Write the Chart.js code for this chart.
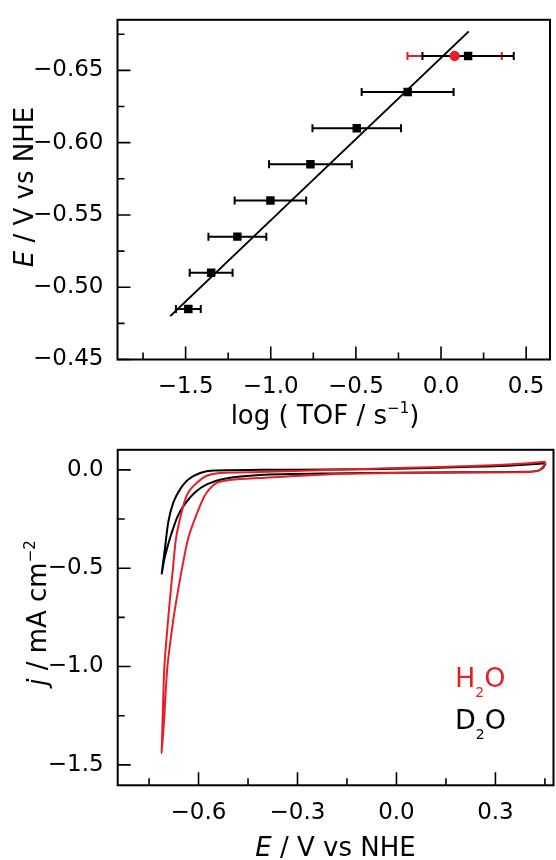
<!DOCTYPE html>
<html>
<head>
<meta charset="utf-8">
<script src="https://cdn.jsdelivr.net/npm/chart.js@4.4.1/dist/chart.umd.min.js"></script>
<style>
  body { margin: 0; background: #fff; }
  canvas { position: absolute; left: 0; }
</style>
</head>
<body>
<canvas id="tofChart" width="556" height="430" style="top:0"></canvas>
<canvas id="cvChart" width="556" height="430" style="top:430px"></canvas>
<script>
// --- top panel: potential vs log(TOF)
const tofLog = [-1.484, -1.350, -1.196, -1.002, -0.767, -0.495, -0.196, 0.159];
const tofErr = [0.073, 0.126, 0.170, 0.210, 0.243, 0.260, 0.270, 0.268];
const tofPotential = [-0.485, -0.510, -0.535, -0.560, -0.585, -0.610, -0.635, -0.660];
const h2oLog = [0.080];
const h2oErr = [0.277];
const h2oPotential = [-0.660];
const fitLog = [-1.590, 0.163];
const fitPotential = [-0.480, -0.677];

const tofMajorX = [-1.5, -1.0, -0.5, 0.0, 0.5];
const tofMinorX = [-1.75, -1.25, -0.75, -0.25, 0.25];
const tofMajorY = [-0.65, -0.60, -0.55, -0.50, -0.45];
const tofMinorY = [-0.675, -0.625, -0.575, -0.525, -0.475];

// --- bottom panel: cyclic voltammograms
const h2oCvPotential = [0.452, 0.35, 0.2, 0.0, -0.2, -0.414, -0.535, -0.575, -0.605, -0.631, -0.646, -0.668, -0.678, -0.683, -0.692, -0.7036, -0.7085, -0.7115,
  -0.7036, -0.6945, -0.676, -0.665, -0.651, -0.631, -0.595, -0.575, -0.545, -0.5, -0.414, -0.2, 0.0, 0.2, 0.395, 0.43, 0.445, 0.452];
const h2oCvCurrent = [0.041, 0.028, 0.018, 0.009, 0.0, -0.011, -0.016, -0.03, -0.066, -0.115, -0.181, -0.346, -0.51, -0.592, -0.757, -1.003, -1.25, -1.44,
  -1.25, -1.003, -0.757, -0.642, -0.51, -0.346, -0.181, -0.115, -0.066, -0.05, -0.041, -0.022, -0.016, -0.013, -0.011, -0.004, 0.016, 0.041];
const d2oCvPotential = [0.452, 0.35, 0.2, 0.0, -0.2, -0.414, -0.555, -0.595, -0.631, -0.656, -0.676, -0.6915, -0.7015, -0.7115,
  -0.7045, -0.696, -0.683, -0.664, -0.641, -0.611, -0.575, -0.525, -0.414, -0.2, 0.0, 0.2, 0.395, 0.43, 0.445, 0.452];
const d2oCvCurrent = [0.033, 0.022, 0.014, 0.006, 0.002, 0.0, -0.003, -0.016, -0.049, -0.099, -0.164, -0.263, -0.395, -0.527,
  -0.461, -0.403, -0.329, -0.239, -0.173, -0.115, -0.074, -0.046, -0.026, -0.018, -0.015, -0.012, -0.01, -0.004, 0.012, 0.033];

const cvMajorX = [-0.6, -0.3, 0.0, 0.3];
const cvMinorX = [-0.75, -0.45, -0.15, 0.15, 0.45];
const cvMajorY = [0.0, -0.5, -1.0, -1.5];
const cvMinorY = [-0.25, -0.75, -1.25];

const RED = '#e41f26';
const FONT = '"DejaVu Sans", sans-serif';

const zip = (xs, ys) => xs.map((v, i) => ({ x: v, y: ys[i] }));
const fmt = d => v => v.toFixed(d).replace('-', '\u2212');

// text with mixed fonts (italic symbols, sub/superscripts)
function drawRich(ctx, parts, x, y, angle, align) {
  ctx.save();
  ctx.translate(x, y);
  ctx.rotate(angle || 0);
  ctx.textBaseline = 'alphabetic';
  ctx.textAlign = 'left';
  let w = 0;
  parts.forEach(p => { ctx.font = p.font; w += ctx.measureText(p.text).width; });
  let cx = align === 'left' ? 0 : -w / 2;
  parts.forEach(p => {
    ctx.font = p.font;
    ctx.fillStyle = p.color || '#000';
    ctx.fillText(p.text, cx, p.dy || 0);
    cx += ctx.measureText(p.text).width;
  });
  ctx.restore();
}

// box frame + inward ticks
const framePlugin = {
  id: 'frame',
  afterDraw(chart, args, opts) {
    const { ctx, chartArea: a, scales: { x, y } } = chart;
    ctx.save();
    ctx.strokeStyle = '#000';
    ctx.lineWidth = 1.6;
    ctx.beginPath();
    opts.xMajor.forEach(v => { const p = x.getPixelForValue(v); ctx.moveTo(p, a.bottom); ctx.lineTo(p, a.bottom - 13); });
    opts.xMinor.forEach(v => { const p = x.getPixelForValue(v); ctx.moveTo(p, a.bottom); ctx.lineTo(p, a.bottom - 7); });
    opts.yMajor.forEach(v => { const p = y.getPixelForValue(v); ctx.moveTo(a.left, p); ctx.lineTo(a.left + 13, p); });
    opts.yMinor.forEach(v => { const p = y.getPixelForValue(v); ctx.moveTo(a.left, p); ctx.lineTo(a.left + 7, p); });
    ctx.stroke();
    ctx.lineWidth = 2;
    ctx.strokeRect(a.left, a.top, a.right - a.left, a.bottom - a.top);
    ctx.restore();
    (opts.texts || []).forEach(t => drawRich(ctx, t.parts, t.x, t.y, t.angle, t.align));
  }
};

// horizontal error bars
const errorBarPlugin = {
  id: 'errorBars',
  beforeDatasetsDraw(chart, args, opts) {
    const { ctx, scales: { x, y } } = chart;
    ctx.save();
    ctx.lineWidth = 2;
    opts.sets.forEach(s => {
      ctx.strokeStyle = s.color;
      s.x.forEach((v, i) => {
        const x0 = x.getPixelForValue(v - s.err[i]);
        const x1 = x.getPixelForValue(v + s.err[i]);
        const py = y.getPixelForValue(s.y[i]);
        ctx.beginPath();
        ctx.moveTo(x0, py); ctx.lineTo(x1, py);
        ctx.moveTo(x0, py - 4); ctx.lineTo(x0, py + 4);
        ctx.moveTo(x1, py - 4); ctx.lineTo(x1, py + 4);
        ctx.stroke();
      });
    });
    ctx.restore();
  }
};

const tickFont = { family: FONT, size: 23 };
const titleFont = '26px ' + FONT;
const titleItalic = 'oblique 26px ' + FONT;
const supFont = '15px ' + FONT;

function axis(min, max, majors, digits, fit, extra) {
  return Object.assign({
    type: 'linear',
    min: min,
    max: max,
    afterBuildTicks: s => { s.ticks = majors.map(v => ({ value: v })); },
    afterFit: fit,
    grid: { display: false },
    border: { display: false },
    ticks: { font: tickFont, color: '#000', padding: 6, maxRotation: 0, autoSkip: false, callback: fmt(digits) }
  }, extra || {});
}

// Top chart
new Chart(document.getElementById('tofChart').getContext('2d'), {
  type: 'scatter',
  data: {
    datasets: [
      { data: zip(h2oLog, h2oPotential), pointStyle: 'circle', pointRadius: 5.2, backgroundColor: RED, borderColor: RED, borderWidth: 0 },
      { data: zip(tofLog, tofPotential), pointStyle: 'rect', pointRadius: 6, backgroundColor: '#000', borderColor: '#000', borderWidth: 0 },
      { data: zip(fitLog, fitPotential), showLine: true, pointRadius: 0, borderColor: '#000', borderWidth: 2 }
    ]
  },
  options: {
    responsive: false,
    animation: false,
    events: [],
    layout: { padding: { top: 13, right: 2, left: 0, bottom: 0 } },
    scales: {
      x: axis(-1.9, 0.64, tofMajorX, 1, s => { s.height = 430 - 359.5; }),
      y: axis(-0.685, -0.45, tofMajorY, 2, s => { s.width = 117.5; }, { reverse: true })
    },
    plugins: {
      legend: { display: false },
      tooltip: { enabled: false },
      errorBars: {
        sets: [
          { x: h2oLog, err: h2oErr, y: h2oPotential, color: RED },
          { x: tofLog, err: tofErr, y: tofPotential, color: '#000' }
        ]
      },
      frame: {
        xMajor: tofMajorX, xMinor: tofMinorX, yMajor: tofMajorY, yMinor: tofMinorY,
        texts: [
          { x: 325, y: 424, parts: [
            { text: 'log ( TOF / s', font: titleFont },
            { text: '\u22121', font: supFont, dy: -11 },
            { text: ')', font: titleFont }
          ] },
          { x: 33, y: 187, angle: -Math.PI / 2, parts: [
            { text: 'E', font: titleItalic },
            { text: ' / V vs NHE', font: titleFont }
          ] }
        ]
      }
    }
  },
  plugins: [errorBarPlugin, framePlugin]
});

// Bottom chart
new Chart(document.getElementById('cvChart').getContext('2d'), {
  type: 'scatter',
  data: {
    datasets: [
      { data: zip(h2oCvPotential, h2oCvCurrent), showLine: true, pointRadius: 0, borderColor: RED, borderWidth: 2, tension: 0.25 },
      { data: zip(d2oCvPotential, d2oCvCurrent), showLine: true, pointRadius: 0, borderColor: '#000', borderWidth: 2, tension: 0.25 }
    ]
  },
  options: {
    responsive: false,
    animation: false,
    events: [],
    layout: { padding: { top: 9.3, right: 2.5, left: 0, bottom: 0 } },
    scales: {
      x: axis(-0.845, 0.476, cvMajorX, 1, s => { s.height = 430 - 355.3; }),
      y: axis(-1.604, 0.102, cvMajorY, 1, s => { s.width = 117.7; })
    },
    plugins: {
      legend: { display: false },
      tooltip: { enabled: false },
      frame: {
        xMajor: cvMajorX, xMinor: cvMinorX, yMajor: cvMajorY, yMinor: cvMinorY,
        texts: [
          { x: 335.5, y: 426, parts: [
            { text: 'E', font: titleItalic },
            { text: ' / V vs NHE', font: titleFont }
          ] },
          { x: 46, y: 183, angle: -Math.PI / 2, parts: [
            { text: 'j', font: titleItalic },
            { text: ' / mA cm', font: titleFont },
            { text: '\u22122', font: supFont, dy: -11 }
          ] },
          { x: 455, y: 256.7, align: 'left', parts: [
            { text: 'H', font: '27px ' + FONT, color: RED },
            { text: '2', font: '14px ' + FONT, dy: 10, color: RED },
            { text: 'O', font: '27px ' + FONT, color: RED }
          ] },
          { x: 455, y: 299.3, align: 'left', parts: [
            { text: 'D', font: '27px ' + FONT },
            { text: '2', font: '14px ' + FONT, dy: 10 },
            { text: 'O', font: '27px ' + FONT }
          ] }
        ]
      }
    }
  },
  plugins: [framePlugin]
});
</script>
</body>
</html>
